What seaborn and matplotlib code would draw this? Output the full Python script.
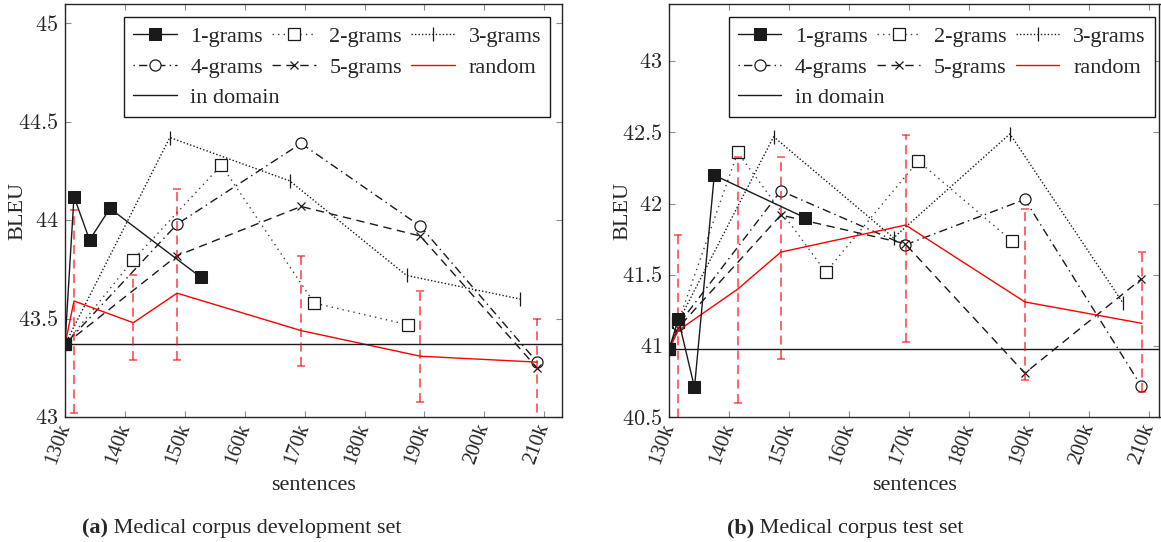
import matplotlib
matplotlib.use('Agg')
import matplotlib.pyplot as plt
import seaborn as sns
from matplotlib.ticker import FixedLocator, FuncFormatter

# sentences in thousands, scores in BLEU
# --- (a) development set ---
dev_in_domain = 43.37
dev_x_1g = [130, 131.5, 134.1, 137.5, 152.7]
dev_1grams = [43.37, 44.12, 43.90, 44.06, 43.71]
dev_x_2g = [130, 141.4, 156.1, 171.6, 187.2]
dev_2grams = [43.37, 43.80, 44.28, 43.58, 43.47]
dev_x_3g = [130, 147.5, 167.5, 187.0, 206.0]
dev_3grams = [43.37, 44.42, 44.20, 43.72, 43.60]
dev_x_45g = [130, 148.7, 169.4, 189.3, 208.8]
dev_4grams = [43.37, 43.98, 44.39, 43.97, 43.28]
dev_5grams = [43.37, 43.82, 44.07, 43.92, 43.25]
dev_x_rand = [130, 131.5, 141.4, 148.7, 169.4, 189.3, 208.8]
dev_random = [43.37, 43.59, 43.48, 43.63, 43.44, 43.31, 43.28]
dev_err_x = [131.5, 141.4, 148.7, 169.4, 189.3, 208.8]
dev_err_lo = [43.02, 43.29, 43.29, 43.26, 43.08, 42.95]
dev_err_hi = [44.05, 43.72, 44.16, 43.82, 43.64, 43.50]

# --- (b) test set ---
test_in_domain = 40.98
test_x_1g = [130, 131.5, 134.2, 137.5, 152.7]
test_1grams = [40.98, 41.19, 40.71, 42.20, 41.90]
test_x_2g = [130, 131.5, 141.4, 156.1, 171.5, 187.1]
test_2grams = [40.98, 41.17, 42.36, 41.52, 42.30, 41.74]
test_x_3g = [130, 131.5, 147.4, 167.4, 186.8, 205.7]
test_3grams = [40.98, 41.17, 42.47, 41.76, 42.49, 41.30]
test_x_45g = [130, 131.5, 148.6, 169.3, 189.3, 208.7]
test_4grams = [40.98, 41.15, 42.09, 41.71, 42.03, 40.72]
test_5grams = [40.98, 41.13, 41.92, 41.72, 40.81, 41.47]
test_x_rand = [130, 131.5, 141.4, 148.6, 169.4, 189.3, 208.8]
test_random = [40.98, 41.11, 41.40, 41.66, 41.85, 41.31, 41.16]
test_err_x = [131.5, 141.4, 148.6, 169.4, 189.3, 208.8]
test_err_lo = [40.40, 40.60, 40.91, 41.03, 40.76, 40.68]
test_err_hi = [41.78, 42.33, 42.33, 42.48, 41.96, 41.66]

x_ticks = [130, 140, 150, 160, 170, 180, 190, 200, 210]

sns.set_theme(style='ticks')
plt.rcParams['font.family'] = ['Liberation Serif', 'DejaVu Serif']
plt.rcParams['mathtext.fontset'] = 'cm'

W, H = 1161, 542
fig = plt.figure(figsize=(W / 100, H / 100), dpi=100)

styles = {
    '1-grams': dict(marker='s', ms=9, mfc='k', mec='k', linestyle='-', color='k', zorder=6),
    '2-grams': dict(marker='s', ms=8, mfc='white', mec='k', mew=0.9, linestyle=(0, (1, 3)), color='0.25'),
    '3-grams': dict(marker='|', ms=10, mec='k', mew=0.9, linestyle=(0, (1, 1.5)), color='k'),
    '4-grams': dict(marker='o', ms=8, mfc='white', mec='k', mew=0.9, linestyle=(0, (1, 3, 6, 3)), color='k'),
    '5-grams': dict(marker='x', ms=6, mec='k', mew=0.9, linestyle=(0, (6, 4)), color='k'),
}


def draw_panel(ax, series, x_rand, rand, err_x, err_lo, err_hi, in_domain, ylim, yticks, xmax, leg_x):
    for name, (xs, ys) in series.items():
        sns.lineplot(x=xs, y=ys, ax=ax, label=name, lw=1.0, errorbar=None, sort=False, **styles[name])
    sns.lineplot(x=x_rand, y=rand, ax=ax, label='random', color='red', lw=1.0, errorbar=None, sort=False)
    mid = [(lo + hi) / 2 for lo, hi in zip(err_lo, err_hi)]
    half = [(hi - lo) / 2 for lo, hi in zip(err_lo, err_hi)]
    eb = ax.errorbar(err_x, mid, yerr=half, fmt='none', ecolor='red', alpha=0.65,
                     elinewidth=1.3, capsize=3, capthick=1.2, zorder=3)
    eb[2][0].set_linestyle((0, (5, 3)))
    ax.axhline(in_domain, color='0.1', lw=1.0, label='in domain', zorder=2)

    ax.set_xlim(130, xmax)
    ax.set_ylim(*ylim)
    ax.xaxis.set_major_locator(FixedLocator(x_ticks))
    ax.xaxis.set_major_formatter(FuncFormatter(lambda v, p: f'{v:g}k'))
    ax.yaxis.set_major_locator(FixedLocator(yticks))
    ax.yaxis.set_major_formatter(FuncFormatter(lambda v, p: f'${v:g}$'))
    ax.tick_params(direction='in', top=True, right=True, length=4, width=0.8,
                   color='0.55', pad=5)
    ax.tick_params(axis='x', labelsize=15)
    ax.tick_params(axis='y', labelsize=16)
    for lab in ax.get_xticklabels():
        lab.set_rotation(70)
        lab.set_ha('right')
        lab.set_va('center')
        lab.set_rotation_mode('anchor')
    for sp in ax.spines.values():
        sp.set_color('0.15')
        sp.set_linewidth(1.0)

    ax.set_xlabel('sentences', fontsize=16)
    ax.xaxis.set_label_coords(0.5, -0.164)
    ax.xaxis.label.set_va('center')
    ax.set_ylabel('BLEU', fontsize=16)
    ax.yaxis.set_label_coords(-0.095, 0.5)
    ax.yaxis.label.set_va('center')

    handles, labels = ax.get_legend_handles_labels()
    lookup = dict(zip(labels, handles))
    order = ['1-grams', '4-grams', 'in domain', '2-grams', '5-grams', '3-grams', 'random']
    # "in domain" is written afterwards so it can run across the first column, as in the original
    shown = ['' if k == 'in domain' else k for k in order]
    leg = ax.legend([lookup[k] for k in order], shown, ncol=3, loc='upper left',
                    bbox_to_anchor=(leg_x, 0.969), fontsize=16, frameon=True, fancybox=False,
                    edgecolor='k', framealpha=1, handlelength=1.95, handletextpad=0.62,
                    columnspacing=0.42, labelspacing=0.45, borderpad=0.42, borderaxespad=0)
    leg.get_frame().set_linewidth(1.0)
    return leg


ax1 = fig.add_axes([65 / W, 1 - 417.3 / H, 497.3 / W, 413 / H])
leg1 = draw_panel(ax1,
                  {'1-grams': (dev_x_1g, dev_1grams), '2-grams': (dev_x_2g, dev_2grams),
                   '3-grams': (dev_x_3g, dev_3grams), '4-grams': (dev_x_45g, dev_4grams),
                   '5-grams': (dev_x_45g, dev_5grams)},
                  dev_x_rand, dev_random, dev_err_x, dev_err_lo, dev_err_hi, dev_in_domain,
                  (43, 45.096), [43, 43.5, 44, 44.5, 45], 213.0, 0.1186)

ax2 = fig.add_axes([669.3 / W, 1 - 417.3 / H, 490.2 / W, 413 / H])
leg2 = draw_panel(ax2,
                  {'1-grams': (test_x_1g, test_1grams), '2-grams': (test_x_2g, test_2grams),
                   '3-grams': (test_x_3g, test_3grams), '4-grams': (test_x_45g, test_4grams),
                   '5-grams': (test_x_45g, test_5grams)},
                  test_x_rand, test_random, test_err_x, test_err_lo, test_err_hi, test_in_domain,
                  (40.5, 43.40), [40.5, 41, 41.5, 42, 42.5, 43], 211.75, 0.121)

fig.canvas.draw()
r = fig.canvas.get_renderer()
for leg in (leg1, leg2):
    t = leg.get_texts()
    b0 = t[0].get_window_extent(r)
    b1 = t[1].get_window_extent(r)
    y3 = b1.y0 - (b0.y0 - b1.y0)
    fig.text(b0.x0 / W, y3 / H, 'in domain', fontsize=16, ha='left', va='bottom', zorder=10)


def caption(xc, yc, tag, text, size=16):
    t1 = fig.text(0, 1 - yc / H, tag, fontweight='bold', fontsize=size, va='center')
    t2 = fig.text(0, 1 - yc / H, ' ' + text, fontsize=size, va='center')
    w1 = t1.get_window_extent(r).width
    w2 = t2.get_window_extent(r).width
    x0 = xc - (w1 + w2) / 2
    t1.set_x(x0 / W)
    t2.set_x((x0 + w1) / W)


caption(241.7, 528, '(a)', 'Medical corpus development set')
caption(845.3, 528, '(b)', 'Medical corpus test set')

fig.savefig('out.png', dpi=100)
